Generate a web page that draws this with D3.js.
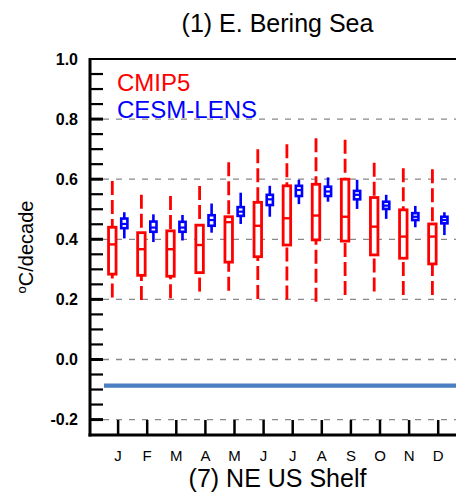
<!DOCTYPE html>
<html><head><meta charset="utf-8">
<script src="https://cdn.jsdelivr.net/npm/d3@7"></script>
<style>body{margin:0;background:#fff;overflow:hidden}svg{display:block}text{font-family:"Liberation Sans",Arial,Helvetica,sans-serif}</style>
</head><body><svg id="c" width="456" height="497"></svg>
<script>
const months = ["J","F","M","A","M","J","J","A","S","O","N","D"];
// [whiskerLow, q1, median, q3, whiskerHigh]
const cmip5 = [
  [0.206,0.284,0.383,0.440,0.594],
  [0.198,0.280,0.367,0.422,0.548],
  [0.204,0.277,0.367,0.428,0.544],
  [0.226,0.289,0.381,0.447,0.577],
  [0.229,0.324,0.457,0.475,0.656],
  [0.201,0.342,0.445,0.523,0.700],
  [0.200,0.381,0.470,0.578,0.716],
  [0.192,0.398,0.479,0.583,0.736],
  [0.215,0.394,0.475,0.600,0.731],
  [0.226,0.348,0.442,0.539,0.655],
  [0.215,0.337,0.409,0.498,0.636],
  [0.215,0.318,0.409,0.451,0.633]
];
const lens = [
  [0.403,0.437,0.451,0.469,0.490],
  [0.391,0.425,0.439,0.459,0.483],
  [0.396,0.425,0.439,0.458,0.481],
  [0.422,0.445,0.464,0.480,0.519],
  [0.451,0.478,0.492,0.507,0.555],
  [0.475,0.514,0.533,0.548,0.578],
  [0.517,0.544,0.564,0.578,0.598],
  [0.525,0.544,0.559,0.575,0.606],
  [0.501,0.533,0.548,0.561,0.598],
  [0.468,0.501,0.512,0.525,0.548],
  [0.440,0.464,0.475,0.487,0.511],
  [0.414,0.453,0.464,0.475,0.490]
];
const yMajor = [-0.2,0.0,0.2,0.4,0.6,0.8,1.0];
const refLineValue = -0.087;
const seriesNames = ["CMIP5","CESM-LENS"];

const svg = d3.select("#c");
const L = 90, T = 59, B = 435, R = 470;
const x = d3.scaleLinear().domain([0,13]).range([89,467.3]);
const y = d3.scaleLinear().domain([-0.25,1.0]).range([434.6,59]);

const defs = svg.append("defs");
const f = defs.append("filter").attr("id","sh").attr("x","-5%").attr("y","-200%").attr("width","110%").attr("height","500%");
f.append("feGaussianBlur").attr("stdDeviation",1.2);

// gridlines
svg.append("g").selectAll("line").data(yMajor).join("line")
  .attr("x1",L).attr("x2",R).attr("y1",d=>y(d)).attr("y2",d=>y(d))
  .attr("stroke","#888").attr("stroke-width",1.3).attr("stroke-dasharray","6,7");

// reference line with shadow
svg.append("line").attr("x1",104).attr("x2",R).attr("y1",y(refLineValue)+3.5).attr("y2",y(refLineValue)+3.5)
  .attr("stroke","#999").attr("stroke-width",3).attr("filter","url(#sh)").attr("opacity",0.8);
svg.append("line").attr("x1",104).attr("x2",R).attr("y1",y(refLineValue)).attr("y2",y(refLineValue))
  .attr("stroke","#4a7dc2").attr("stroke-width",4.2);

// axes frame
svg.append("line").attr("x1",L).attr("x2",R).attr("y1",T).attr("y2",T).attr("stroke","#000").attr("stroke-width",2.2);
svg.append("line").attr("x1",L).attr("x2",L).attr("y1",T-1).attr("y2",B+1.5).attr("stroke","#000").attr("stroke-width",3);
svg.append("line").attr("x1",L-1.5).attr("x2",R).attr("y1",B).attr("y2",B).attr("stroke","#000").attr("stroke-width",3);

// y ticks (inward)
const yMinor = d3.range(-5,21).map(i=>+(i*0.05).toFixed(2)).filter(v=>v>-0.25&&v<1.0);
svg.append("g").selectAll("line").data(yMinor).join("line")
  .attr("x1",L).attr("x2",L+13).attr("y1",d=>y(d)).attr("y2",d=>y(d))
  .attr("stroke","#000").attr("stroke-width",d=>yMajor.some(m=>Math.abs(m-d)<1e-6)?3:2.2);
svg.append("g").selectAll("text").data(yMajor).join("text")
  .attr("x",78).attr("y",d=>y(d)+5.5).attr("text-anchor","end")
  .attr("font-size",16).attr("font-weight","bold").text(d=>d3.format(".1f")(d).replace("−","-"));

// x ticks (inward)
svg.append("g").selectAll("line").data(months).join("line")
  .attr("x1",(d,i)=>x(i+1)).attr("x2",(d,i)=>x(i+1)).attr("y1",B).attr("y2",B-15)
  .attr("stroke","#000").attr("stroke-width",2.5);
svg.append("g").selectAll("text").data(months).join("text")
  .attr("x",(d,i)=>x(i+1)).attr("y",461).attr("text-anchor","middle")
  .attr("font-size",15).text(d=>d);

// boxplots
function drawBoxes(data, off, color, w, sw, dashed){
  const g = svg.append("g");
  data.forEach((d,i)=>{
    const cx = x(i+1)+off;
    const [lo,q1,md,q3,hi] = d;
    g.append("line").attr("x1",cx).attr("x2",cx).attr("y1",y(hi)).attr("y2",y(q3))
      .attr("stroke",color).attr("stroke-width",sw).attr("stroke-dasharray",dashed?"14,5":null);
    g.append("line").attr("x1",cx).attr("x2",cx).attr("y1",y(lo)).attr("y2",y(q1))
      .attr("stroke",color).attr("stroke-width",sw).attr("stroke-dasharray",dashed?"14,5":null);
    g.append("rect").attr("x",cx-w/2).attr("y",y(q3)).attr("width",w).attr("height",y(q1)-y(q3))
      .attr("fill","#fff").attr("stroke",color).attr("stroke-width",sw);
    g.append("line").attr("x1",cx-w/2).attr("x2",cx+w/2).attr("y1",y(md)).attr("y2",y(md))
      .attr("stroke",color).attr("stroke-width",sw*0.85);
  });
}
drawBoxes(cmip5,-5.8,"#ff0000",7.5,2.8,true);
drawBoxes(lens,6.2,"#0000ff",6.2,2.6,false);

// legend
svg.append("text").attr("x",117).attr("y",90.5).attr("font-size",24).attr("fill","#ff0000").text(seriesNames[0]);
svg.append("text").attr("x",117).attr("y",118.3).attr("font-size",24).attr("fill","#0000ff").text(seriesNames[1]);

// titles
svg.append("text").attr("x",277.5).attr("y",31.5).attr("text-anchor","middle").attr("font-size",25).text("(1) E. Bering Sea");
svg.append("text").attr("x",277.5).attr("y",486.5).attr("text-anchor","middle").attr("font-size",25).text("(7) NE US Shelf");

// y label
const yl = svg.append("text").attr("transform","translate(33,247) rotate(-90)").attr("text-anchor","middle").attr("font-size",20);
yl.append("tspan").attr("font-size",13).attr("dy",-7).text("o");
yl.append("tspan").attr("dy",7).text("C/decade");
</script></body></html>
